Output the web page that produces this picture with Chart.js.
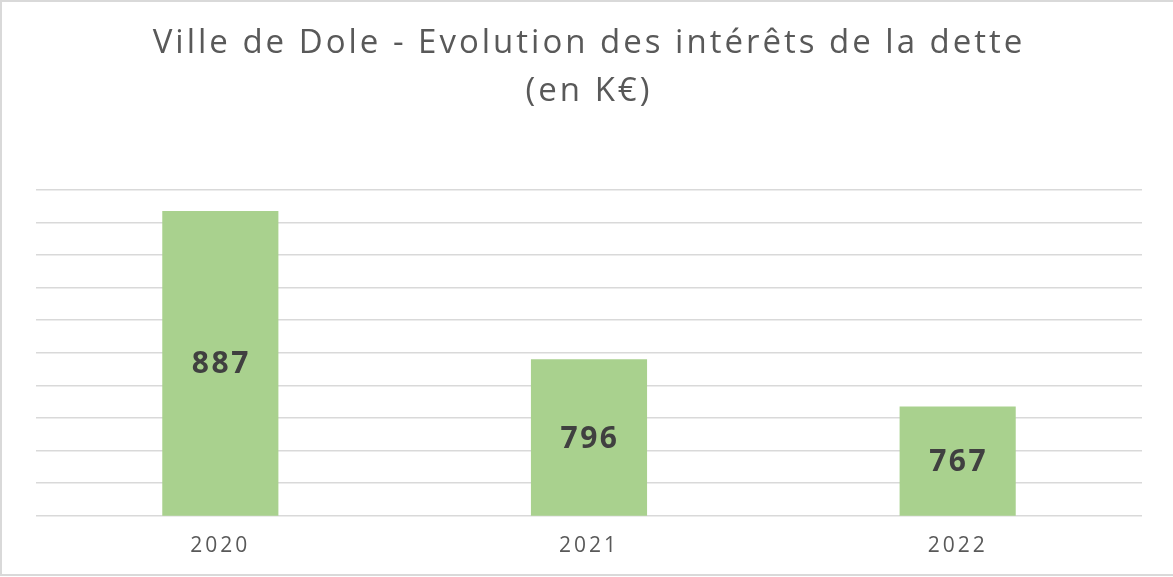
<!DOCTYPE html>
<html lang="fr">
<head>
    <meta charset="UTF-8">
    <title>Ville de Dole - Evolution des intérêts de la dette</title>
    <script src="https://cdn.jsdelivr.net/npm/chart.js"></script>
    <style>
        body {
            margin: 0;
            background: #fff;
        }
        #wrap {
            width: 1173px;
            height: 577px;
        }
    </style>
</head>
<body>
    <div id="wrap"><canvas id="detteChart"></canvas></div>
    <script>
        // data
        const years = ['2020', '2021', '2022'];
        const interets = [887, 796, 767];
        const titleLines = ['Ville de Dole - Evolution des intérêts de la dette', '(en K€)'];

        // the original text is drawn wide, so add some letter spacing
        const spacing = {
            id: 'spacing',
            beforeDraw(chart) {
                chart.ctx.letterSpacing = '3px';
            },
            afterDraw(chart) {
                chart.ctx.letterSpacing = '0px';
            }
        };

        // value in the middle of each bar + light grey frame
        const extras = {
            id: 'extras',
            afterDraw(chart) {
                const ctx = chart.ctx;
                const yScale = chart.scales.y;
                const meta = chart.getDatasetMeta(0);
                const basePx = yScale.getPixelForValue(yScale.min);
                ctx.save();
                ctx.letterSpacing = '2.5px';
                ctx.font = 'bold 30px "Open Sans"';
                ctx.fillStyle = '#404040';
                ctx.textAlign = 'center';
                ctx.textBaseline = 'middle';
                meta.data.forEach((bar, i) => {
                    const top = yScale.getPixelForValue(interets[i]);
                    ctx.fillText(String(interets[i]), bar.x + 1, (top + basePx) / 2 + 1.5);
                });
                ctx.restore();

                ctx.save();
                ctx.strokeStyle = '#d9d9d9';
                ctx.lineWidth = 2;
                ctx.beginPath();
                ctx.moveTo(chart.width, 1);
                ctx.lineTo(1, 1);
                ctx.lineTo(1, chart.height - 2);
                ctx.lineTo(chart.width, chart.height - 2);
                ctx.stroke();
                ctx.restore();
            }
        };

        new Chart(document.getElementById('detteChart'), {
            type: 'bar',
            data: {
                labels: years,
                datasets: [{
                    data: interets,
                    backgroundColor: '#a9d18e',
                    borderWidth: 0,
                    barPercentage: 0.63,
                    categoryPercentage: 0.5
                }]
            },
            options: {
                responsive: true,
                maintainAspectRatio: false,
                animation: false,
                layout: {
                    padding: { left: 36, right: 31, top: 0, bottom: 0 }
                },
                plugins: {
                    legend: { display: false },
                    tooltip: { enabled: false },
                    title: {
                        display: true,
                        text: titleLines,
                        color: '#595959',
                        font: { family: 'Open Sans', size: 33, weight: 'normal', lineHeight: 1.45 },
                        padding: { top: 20, bottom: 74 }
                    }
                },
                scales: {
                    x: {
                        grid: { display: false, drawTicks: false },
                        border: { display: false },
                        ticks: {
                            color: '#595959',
                            font: { family: 'Open Sans', size: 21 },
                            padding: 18
                        }
                    },
                    y: {
                        min: 700,
                        max: 900,
                        border: { display: false },
                        grid: { color: '#d9d9d9', lineWidth: 1.5, drawTicks: false },
                        ticks: { display: false, stepSize: 20 }
                    }
                }
            },
            plugins: [spacing, extras]
        });
    </script>
</body>
</html>
